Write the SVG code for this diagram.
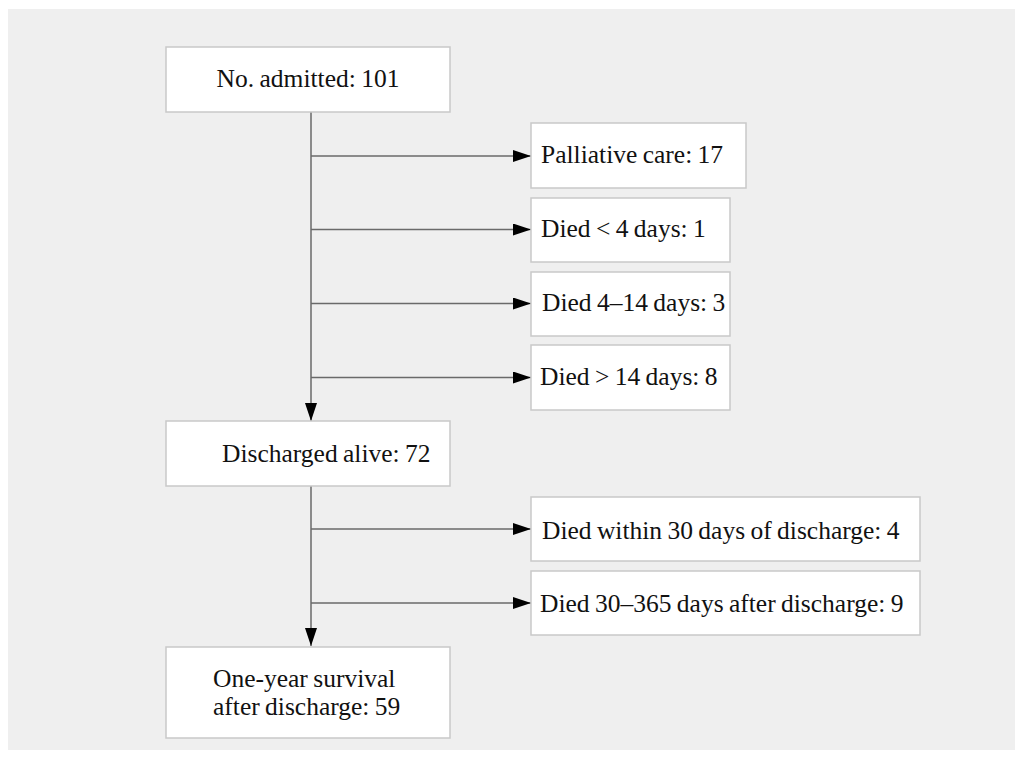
<svg xmlns="http://www.w3.org/2000/svg" width="1023" height="762" viewBox="0 0 1023 762">
<style>
.bg{fill:#ffffff}
.panel{fill:#efefef}
.box{fill:#ffffff;stroke:#c9c9c9;stroke-width:1.5}
.t{font-family:"Liberation Serif","DejaVu Serif",serif;font-size:25.5px;word-spacing:-1px;fill:#111111}
.ln{stroke:#6a6a6a;stroke-width:1.5;fill:none;marker-end:url(#ah)}
</style>
<defs>
<marker id="ah" markerUnits="userSpaceOnUse" markerWidth="18" markerHeight="12" refX="18" refY="6" orient="auto">
<path d="M0,0 L18,6 L0,12 z" fill="#000000"/>
</marker>
</defs>
<rect class="bg" x="0" y="0" width="1023" height="762"/>
<rect class="panel" x="8" y="9" width="1007" height="741"/>
<g id="connectors">
<line class="ln" x1="311" y1="112" x2="311" y2="421"/>
<line class="ln" x1="311" y1="156" x2="531" y2="156"/>
<line class="ln" x1="311" y1="229.5" x2="531" y2="229.5"/>
<line class="ln" x1="311" y1="303.5" x2="531" y2="303.5"/>
<line class="ln" x1="311" y1="377.5" x2="531" y2="377.5"/>
<line class="ln" x1="311" y1="486" x2="311" y2="646"/>
<line class="ln" x1="311" y1="529" x2="531" y2="529"/>
<line class="ln" x1="311" y1="603" x2="531" y2="603"/>
</g>
<g id="admitted">
<rect class="box" x="166" y="47" width="284" height="65"/>
<text class="t" x="308" y="87" text-anchor="middle">No. admitted: 101</text>
</g>
<g id="palliative">
<rect class="box" x="531" y="123" width="215" height="65"/>
<text class="t" x="541" y="163">Palliative care: 17</text>
</g>
<g id="died-lt4">
<rect class="box" x="531" y="198" width="199" height="64"/>
<text class="t" x="541" y="237">Died &lt; 4 days: 1</text>
</g>
<g id="died-4-14">
<rect class="box" x="531" y="272" width="199" height="64"/>
<text class="t" x="542" y="311">Died 4–14 days: 3</text>
</g>
<g id="died-gt14">
<rect class="box" x="531" y="345" width="199" height="65"/>
<text class="t" x="540" y="385">Died &gt; 14 days: 8</text>
</g>
<g id="discharged">
<rect class="box" x="166" y="421" width="284" height="65"/>
<text class="t" x="222" y="462">Discharged alive: 72</text>
</g>
<g id="died-30">
<rect class="box" x="531" y="497" width="389" height="64"/>
<text class="t" x="542" y="539">Died within 30 days of discharge: 4</text>
</g>
<g id="died-30-365">
<rect class="box" x="531" y="571" width="389" height="64"/>
<text class="t" x="540" y="612">Died 30–365 days after discharge: 9</text>
</g>
<g id="survival">
<rect class="box" x="166" y="647" width="284" height="91"/>
<text class="t" x="213" y="687">One-year survival</text>
<text class="t" x="213" y="715">after discharge: 59</text>
</g>
</svg>
